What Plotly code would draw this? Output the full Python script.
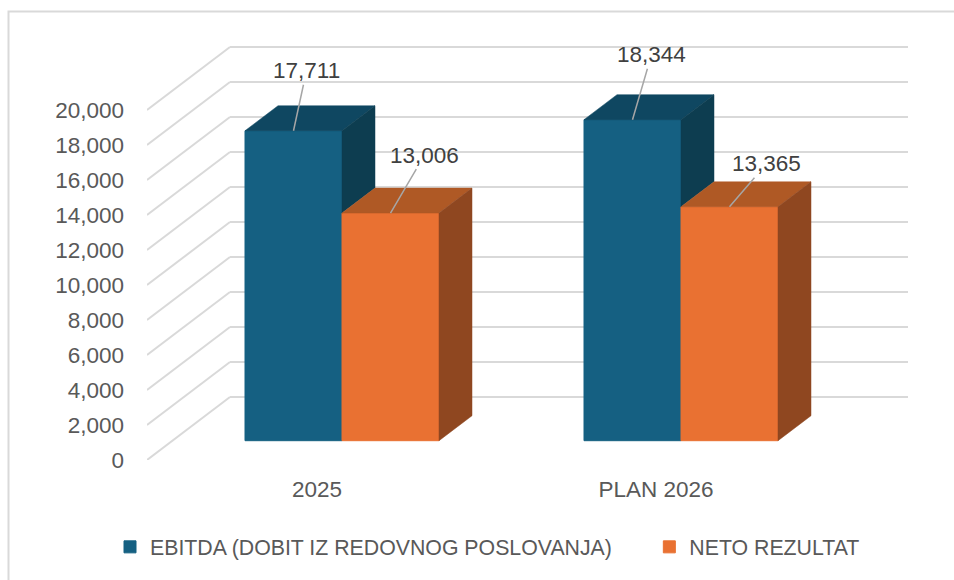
import plotly.graph_objects as go

categories = ["2025", "PLAN 2026"]
ebitda = [17711, 18344]
neto = [13006, 13365]
y_ticks = list(range(0, 20001, 2000))
names = ["EBITDA (DOBIT IZ REDOVNOG POSLOVANJA)\u00a0\u00a0\u00a0\u00a0\u00a0\u00a0\u00a0", "NETO REZULTAT"]

W, H = 954, 580
L, R, T, B = 147, 908, 30, 460      # plot area, px
PX_PER_CAT = 339
PX_PER_VAL = 0.0175
CENTER_PX = 342
x_range = [(L - CENTER_PX) / PX_PER_CAT, (R - CENTER_PX) / PX_PER_CAT]
y_range = [0, (B - T) / PX_PER_VAL]

BAR_W = 97 / PX_PER_CAT
FLOOR = 19.3 / PX_PER_VAL
DEPTH_X, DEPTH_Y = 33 / PX_PER_CAT, 25 / PX_PER_VAL
WALL_X, WALL_Y = 83 / PX_PER_CAT, 63 / PX_PER_VAL
LABEL_SHIFT = 25 / PX_PER_CAT

BLUE, BLUE_TOP, BLUE_SIDE = "#156082", "#0F4761", "#0D3D50"
ORANGE, ORANGE_TOP, ORANGE_SIDE = "#E97132", "#AF5925", "#8F4720"
GRID = "#D9D9D9"
FONT = "Liberation Sans"

xs = list(range(len(categories)))
fig = go.Figure()

fig.add_bar(x=xs, y=ebitda, base=FLOOR, width=BAR_W, offset=-BAR_W, name=names[0],
            marker=dict(color=BLUE, line=dict(color=BLUE, width=1)))
fig.add_bar(x=xs, y=neto, base=FLOOR, width=BAR_W, offset=0, name=names[1],
            marker=dict(color=ORANGE, line=dict(color=ORANGE, width=1)))


def face(px, py, color):
    fig.add_scatter(x=px + px[:1], y=py + py[:1], mode="lines", fill="toself", fillcolor=color,
                    line=dict(color=color, width=0.5), showlegend=False, hoverinfo="skip")


for i in xs:
    a, b = ebitda[i] + FLOOR, neto[i] + FLOOR
    # blue top and the part of its side above the orange bar
    face([i - BAR_W, i, i + DEPTH_X, i - BAR_W + DEPTH_X], [a, a, a + DEPTH_Y, a + DEPTH_Y], BLUE_TOP)
    face([i, i + DEPTH_X, i + DEPTH_X, i], [a, a + DEPTH_Y, b + DEPTH_Y, b], BLUE_SIDE)
    # orange top and side
    face([i, i + BAR_W, i + BAR_W + DEPTH_X, i + DEPTH_X], [b, b, b + DEPTH_Y, b + DEPTH_Y], ORANGE_TOP)
    face([i + BAR_W, i + BAR_W + DEPTH_X, i + BAR_W + DEPTH_X, i + BAR_W],
         [b, b + DEPTH_Y, FLOOR + DEPTH_Y, FLOOR], ORANGE_SIDE)

shapes = []
for v in y_ticks:
    for x0, y0, x1, y1 in [(x_range[0], v, x_range[0] + WALL_X, v + WALL_Y),
                           (x_range[0] + WALL_X, v + WALL_Y, x_range[1], v + WALL_Y)]:
        shapes.append(dict(type="line", xref="x", yref="y", x0=x0, y0=y0, x1=x1, y1=y1,
                           layer="below", line=dict(color=GRID, width=2)))
# chart-area frame
shapes.append(dict(type="rect", xref="paper", yref="paper", layer="below",
                   x0=(8.5 - L) / (R - L), x1=(W + 5 - L) / (R - L),
                   y0=(B - H - 5) / (B - T), y1=(B - 11.5) / (B - T),
                   line=dict(color=GRID, width=2)))

label_offsets = {(0, 0): (13, -60), (1, 0): (34, -58), (0, 1): (19, -65), (1, 1): (37, -43)}
annotations = []
for s, vals in enumerate([ebitda, neto]):
    for i in xs:
        ax, ay = label_offsets[(s, i)]
        annotations.append(dict(
            x=i + (s - 0.5) * BAR_W, y=vals[i] + FLOOR, text=f"{vals[i]:,}",
            showarrow=True, arrowhead=0, arrowwidth=1.5, arrowcolor="#A6A6A6",
            ax=ax, ay=ay, axref="pixel", ayref="pixel",
            font=dict(family=FONT, size=22.5, color="#404040")))

fig.update_layout(
    width=W, height=H, margin=dict(l=L, r=W - R, t=T, b=H - B, pad=0),
    paper_bgcolor="white", plot_bgcolor="rgba(0,0,0,0)",
    barmode="overlay", shapes=shapes, annotations=annotations,
    font=dict(family=FONT, size=22.5, color="#595959"),
    xaxis=dict(range=x_range, tickvals=[i - LABEL_SHIFT for i in xs], ticktext=categories,
               showgrid=False, zeroline=False, showline=False, ticks="", ticklabelstandoff=13),
    yaxis=dict(range=y_range, tickvals=y_ticks, tickformat=",d", showgrid=False, zeroline=False,
               showline=False, ticks="", ticklabelstandoff=22),
    legend=dict(orientation="h", xanchor="left", yanchor="middle", indentation=-9,
                x=(119 - L) / (R - L), y=(B - 547) / (B - T),
                font=dict(size=21.3, color="#595959"), bgcolor="rgba(0,0,0,0)"),
)

fig.write_html("out.html", config={"displayModeBar": False},
               post_script="document.body.style.margin='0';document.documentElement.style.overflow='hidden';")
